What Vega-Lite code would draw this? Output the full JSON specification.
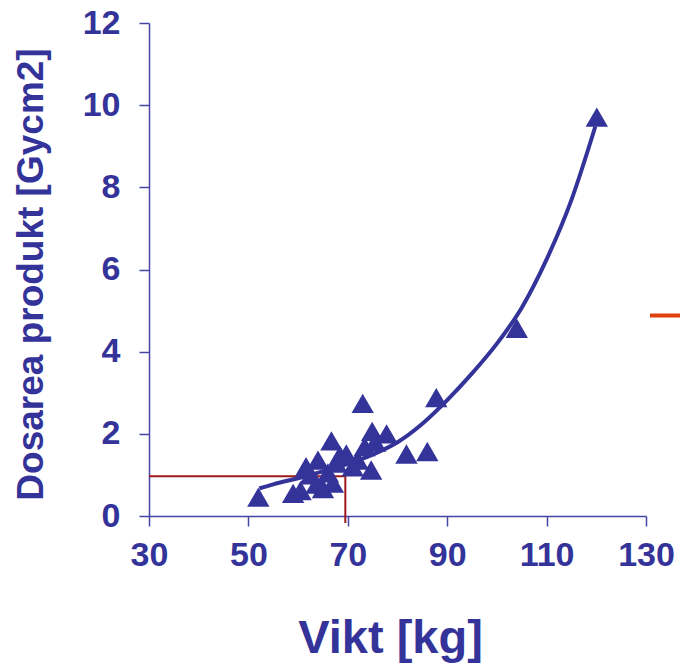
{
  "$schema": "https://vega.github.io/schema/vega-lite/v6.json",
  "autosize": {"type": "none"},
  "width": 497,
  "height": 493,
  "padding": {"left": 149, "top": 23, "right": 34, "bottom": 148},
  "background": "white",
  "config": {
    "view": {"stroke": null},
    "axis": {
      "grid": false,
      "domainColor": "#4444a4",
      "domainWidth": 1.5,
      "tickColor": "#4444a4",
      "tickWidth": 1.5,
      "tickSize": 10,
      "labelFont": "Liberation Sans",
      "labelFontWeight": "bold",
      "labelFontSize": 34,
      "labelColor": "#333399",
      "labelFlush": false,
      "labelOverlap": false,
      "titleFont": "Liberation Sans",
      "titleFontWeight": "bold",
      "titleColor": "#333399"
    }
  },
  "datasets": {
    "points": [
      {"vikt": 52, "dos": 0.46}, {"vikt": 59, "dos": 0.55}, {"vikt": 60.5, "dos": 0.62},
      {"vikt": 61.6, "dos": 1.2}, {"vikt": 62.5, "dos": 1.0}, {"vikt": 63.7, "dos": 0.78},
      {"vikt": 64, "dos": 1.36}, {"vikt": 65, "dos": 0.67}, {"vikt": 66, "dos": 1.05},
      {"vikt": 66.7, "dos": 1.83}, {"vikt": 67, "dos": 0.8}, {"vikt": 67.7, "dos": 1.29},
      {"vikt": 68.4, "dos": 1.48}, {"vikt": 69.7, "dos": 1.51}, {"vikt": 71, "dos": 1.2},
      {"vikt": 72, "dos": 1.36}, {"vikt": 73, "dos": 2.74}, {"vikt": 73.4, "dos": 1.69},
      {"vikt": 74.7, "dos": 1.12}, {"vikt": 74.9, "dos": 2.06}, {"vikt": 75.5, "dos": 1.8},
      {"vikt": 77.8, "dos": 2.0}, {"vikt": 81.8, "dos": 1.51}, {"vikt": 86, "dos": 1.57},
      {"vikt": 87.8, "dos": 2.88}, {"vikt": 104, "dos": 4.57}, {"vikt": 120.1, "dos": 9.71}
    ],
    "curve": [
      {"vikt": 52.2, "dos": 0.67}, {"vikt": 55, "dos": 0.77}, {"vikt": 60, "dos": 0.92},
      {"vikt": 65, "dos": 1.085}, {"vikt": 70, "dos": 1.27}, {"vikt": 75, "dos": 1.495},
      {"vikt": 80, "dos": 1.795}, {"vikt": 85, "dos": 2.245}, {"vikt": 90, "dos": 2.82},
      {"vikt": 95, "dos": 3.47}, {"vikt": 100, "dos": 4.195}, {"vikt": 105, "dos": 5.07},
      {"vikt": 110, "dos": 6.245}, {"vikt": 115, "dos": 7.695}, {"vikt": 119.8, "dos": 9.48}
    ],
    "hline": [{"x1": 30, "x2": 69.5, "y": 0.97}],
    "vline": [{"x": 69.5, "y1": -0.17, "y2": 0.97}],
    "dash": [{"x1": 130.8, "x2": 137, "y": 4.88}]
  },
  "layer": [
    {
      "data": {"name": "hline"},
      "mark": {"type": "rule", "color": "#9e1a1a", "strokeWidth": 2},
      "encoding": {
        "x": {"field": "x1", "type": "quantitative", "scale": {"domain": [30, 130], "nice": false, "zero": false},
          "axis": {"values": [30, 50, 70, 90, 110, 130], "title": "Vikt [kg]", "titleFontSize": 47,
            "labelPadding": 12, "titleX": 241, "titleY": 136, "titleBaseline": "alphabetic"}},
        "x2": {"field": "x2"},
        "y": {"field": "y", "type": "quantitative", "scale": {"domain": [0, 12], "nice": false, "zero": false},
          "axis": {"values": [0, 2, 4, 6, 8, 10, 12], "title": "Dosarea produkt [Gycm2]", "titleFontSize": 37,
            "labelPadding": 19, "titleX": -118, "titleY": 251, "titleBaseline": "middle", "titleAngle": -90}}
      }
    },
    {
      "data": {"name": "vline"},
      "mark": {"type": "rule", "color": "#9e1a1a", "strokeWidth": 2},
      "encoding": {
        "x": {"field": "x", "type": "quantitative"},
        "y": {"field": "y1", "type": "quantitative"},
        "y2": {"field": "y2"}
      }
    },
    {
      "data": {"name": "curve"},
      "mark": {"type": "line", "color": "#333399", "strokeWidth": 4, "interpolate": "monotone"},
      "encoding": {
        "x": {"field": "vikt", "type": "quantitative"},
        "y": {"field": "dos", "type": "quantitative"}
      }
    },
    {
      "data": {"name": "points"},
      "mark": {"type": "point", "shape": "triangle-up", "filled": true, "size": 500, "color": "#333399", "opacity": 1},
      "encoding": {
        "x": {"field": "vikt", "type": "quantitative"},
        "y": {"field": "dos", "type": "quantitative"}
      }
    },
    {
      "data": {"name": "dash"},
      "mark": {"type": "rule", "color": "#e0400a", "strokeWidth": 4},
      "encoding": {
        "x": {"field": "x1", "type": "quantitative"},
        "x2": {"field": "x2"},
        "y": {"field": "y", "type": "quantitative"}
      }
    }
  ]
}
